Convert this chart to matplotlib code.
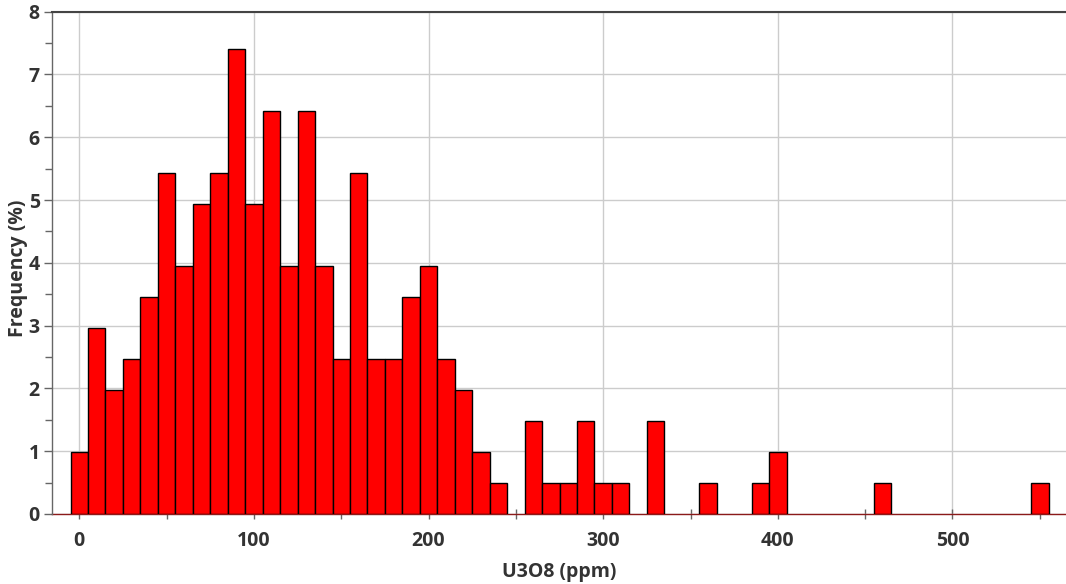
import numpy as np
import matplotlib.pyplot as plt
from matplotlib.ticker import MultipleLocator

# bin centres (ppm) and frequency (%)
bin_centres = list(range(0, 560, 10))
freq = [0.99, 2.96, 1.97, 2.47, 3.45, 5.43, 3.95, 4.94, 5.43, 7.41,
        4.94, 6.42, 3.95, 6.42, 3.95, 2.47, 5.43, 2.47, 2.47, 3.45,
        3.95, 2.47, 1.97, 0.99, 0.49, 0.0, 1.48, 0.49, 0.49, 1.48,
        0.49, 0.49, 0.0, 1.48, 0.0, 0.0, 0.49, 0.0, 0.0, 0.49,
        0.99, 0.0, 0.0, 0.0, 0.0, 0.0, 0.49, 0.0, 0.0, 0.0,
        0.0, 0.0, 0.0, 0.0, 0.0, 0.49]
bin_width = 10
x_label = "U3O8 (ppm)"
y_label = "Frequency (%)"

plt.rcParams['font.family'] = ['Open Sans', 'DejaVu Sans']

fig = plt.figure(figsize=(10.66, 5.84), dpi=100)
ax = fig.add_axes([0.049, 0.12, 0.951, 0.86])

x = np.array(bin_centres)
y = np.array(freq)
nonzero = y > 0
ax.bar(x[nonzero], y[nonzero], width=bin_width, color='#ff0000',
       edgecolor='black', linewidth=1.0, zorder=3)

ax.set_xlim(-15.5, 565)
ax.set_ylim(0, 8)

ax.xaxis.set_major_locator(MultipleLocator(100))
ax.xaxis.set_minor_locator(MultipleLocator(50))
ax.yaxis.set_major_locator(MultipleLocator(1))
ax.yaxis.set_minor_locator(MultipleLocator(0.5))

ax.grid(True, which='major', color='#cccccc', linewidth=1.0, zorder=0)
ax.set_axisbelow(True)

ax.spines['right'].set_visible(False)
ax.spines['top'].set_color('#444444')
ax.spines['top'].set_linewidth(1.5)
ax.spines['left'].set_color('#666666')
ax.spines['left'].set_linewidth(1.0)
ax.spines['bottom'].set_color('#8b1a1a')
ax.spines['bottom'].set_linewidth(1.0)
ax.spines['bottom'].set_zorder(2)

ax.tick_params(axis='y', which='major', length=6, width=1, color='#666666',
               labelsize=14, labelcolor='#333333', pad=3)
ax.tick_params(axis='y', which='minor', length=5, width=1, color='#666666')
ax.tick_params(axis='x', which='both', direction='inout', length=7, width=1,
               color='#666666', labelsize=14, labelcolor='#333333', pad=9)
for lbl in ax.get_xticklabels() + ax.get_yticklabels():
    lbl.set_fontweight('bold')

ax.set_xlabel(x_label, fontsize=14, fontweight='bold', color='#333333', labelpad=8)
ax.set_ylabel(y_label, fontsize=14, fontweight='bold', color='#333333')
ax.yaxis.set_label_coords(-0.024, 0.49)

fig.savefig('out.png', dpi=100)
